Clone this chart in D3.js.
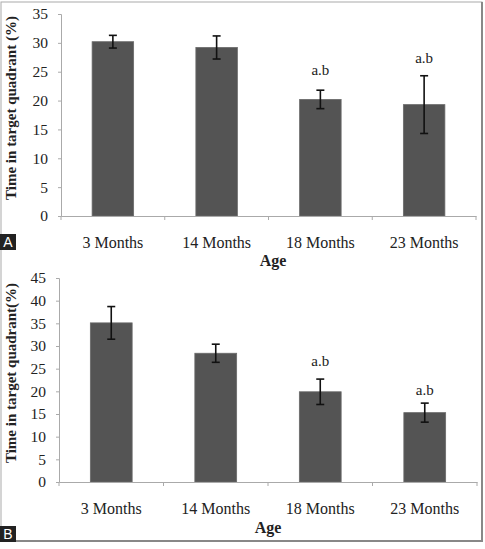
<!DOCTYPE html>
<html><head><meta charset="utf-8">
<script src="https://cdn.jsdelivr.net/npm/d3@7"></script>
<style>
body{margin:0;background:#fff;}
</style></head>
<body><svg id="c" width="485" height="549" style="font-family:'Liberation Serif'"></svg>
<script>
const categories = ["3 Months","14 Months","18 Months","23 Months"];
const meanA = [30.2, 29.2, 20.2, 19.3];
const errA  = [1.1, 2.0, 1.6, 5.0];
const sigA  = ["", "", "a.b", "a.b"];
const ticksA = [0,5,10,15,20,25,30,35];
const meanB = [35.1, 28.4, 19.9, 15.3];
const errB  = [3.6, 2.0, 2.8, 2.1];
const sigB  = ["", "", "a.b", "a.b"];
const ticksB = [0,5,10,15,20,25,30,35,40,45];

const SERIF = "Liberation Serif";
const svg = d3.select("#c");
// frame
svg.append("rect").attr("x",1).attr("y",2).attr("width",481).attr("height",539)
  .attr("fill","none").attr("stroke","#aaa").attr("stroke-width",1);
svg.append("line").attr("x1",482).attr("x2",482).attr("y1",2).attr("y2",542).attr("stroke","#888").attr("stroke-width",2);
svg.append("line").attr("x1",1).attr("x2",483).attr("y1",541).attr("y2",541).attr("stroke","#888").attr("stroke-width",2);

function panel(cfg){
  const g = svg.append("g");
  const x = d3.scaleBand().domain(categories).range([cfg.x0,cfg.x1]).paddingInner(0.6).paddingOuter(0.3);
  const y = d3.scaleLinear().domain([0,cfg.max]).range([cfg.yb,cfg.yt]);
  // bars
  g.selectAll("rect.bar").data(cfg.mean).join("rect")
    .attr("x",(d,i)=>x(categories[i])).attr("width",x.bandwidth())
    .attr("y",d=>y(d)).attr("height",d=>y(0)-y(d))
    .attr("fill","#545454").attr("stroke","#6a6a6a").attr("stroke-width",0.8);
  // error bars
  const eb = g.selectAll("g.eb").data(cfg.mean).join("g");
  eb.each(function(d,i){
    const cx = x(categories[i])+x.bandwidth()/2;
    const s = d3.select(this);
    const lo=y(d-cfg.err[i]), hi=y(d+cfg.err[i]);
    s.append("line").attr("x1",cx).attr("x2",cx).attr("y1",lo).attr("y2",hi);
    s.append("line").attr("x1",cx-4).attr("x2",cx+4).attr("y1",lo).attr("y2",lo);
    s.append("line").attr("x1",cx-4).attr("x2",cx+4).attr("y1",hi).attr("y2",hi);
    s.selectAll("line").attr("stroke","#111").attr("stroke-width",1.6);
    if(cfg.sig[i]) s.append("text").attr("x",cx).attr("y",hi-cfg.sigOff[i]).attr("text-anchor","middle")
      .attr("font-family",SERIF).attr("font-size",15).attr("fill","#222").text(cfg.sig[i]);
  });
  // y axis
  const ya = g.append("g").attr("transform",`translate(${cfg.x0},0)`)
    .call(d3.axisLeft(y).tickValues(cfg.ticks).tickSize(3).tickPadding(10).tickFormat(d3.format("d")));
  ya.attr("font-family",SERIF);
  ya.selectAll("path,line").attr("stroke","#aaa");
  ya.selectAll("text").attr("font-size",15.5).attr("fill","#222").attr("font-family",SERIF);
  // x axis
  const xa = g.append("g").attr("transform",`translate(0,${cfg.yb})`)
    .call(d3.axisBottom(x).tickSize(0).tickPadding(21));
  xa.attr("font-family",SERIF);
  xa.select(".domain").attr("stroke","#aaa");
  xa.selectAll("text").attr("font-size",16).attr("fill","#222").attr("font-family",SERIF);
  // category boundary ticks
  const bounds = d3.range(categories.length+1).map(i=>cfg.x0+i*(cfg.x1-cfg.x0)/categories.length);
  g.selectAll("line.bt").data(bounds).join("line")
    .attr("x1",d=>d).attr("x2",d=>d).attr("y1",cfg.yb).attr("y2",cfg.yb+4).attr("stroke","#aaa");
  // titles
  g.append("text").attr("transform",`translate(${cfg.ytx},${cfg.yty}) rotate(-90)`)
    .attr("text-anchor","middle").attr("font-weight","bold").attr("font-size",cfg.ytfs).attr("fill","#222")
    .attr("font-family",SERIF).text(cfg.ytitle);
  g.append("text").attr("x",cfg.agex).attr("y",cfg.agey).attr("text-anchor","middle")
    .attr("font-weight","bold").attr("font-size",16).attr("fill","#222").attr("font-family",SERIF).text("Age");
  // panel letter
  g.append("rect").attr("x",0).attr("y",cfg.ly).attr("width",16).attr("height",16).attr("fill","#222");
  g.append("text").attr("x",8).attr("y",cfg.ly+13).attr("text-anchor","middle").attr("fill","#fff")
    .attr("font-size",14).attr("font-family","Liberation Sans").text(cfg.letter);
}

panel({x0:61,x1:476,yb:216,yt:14,max:35,mean:meanA,err:errA,sig:sigA,sigOff:[0,0,15,13],ticks:ticksA,
  ytitle:"Time in target quadrant (%)",ytx:16,yty:108,ytfs:15,agex:273,agey:266,ly:234,letter:"A"});
panel({x0:59,x1:477,yb:482,yt:278,max:45,mean:meanB,err:errB,sig:sigB,sigOff:[0,0,13,8],ticks:ticksB,
  ytitle:"Time in target quadrant(%)",ytx:16,yty:373,ytfs:15,agex:268,agey:533,ly:526,letter:"B"});
</script></body></html>
